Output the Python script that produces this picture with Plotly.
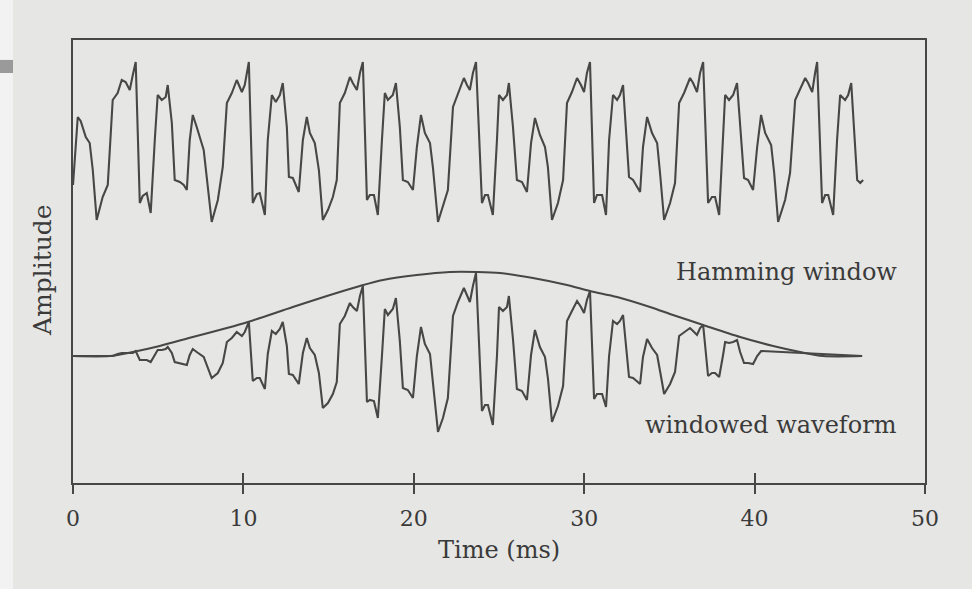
import plotly.graph_objects as go

# ---------------- data ----------------
# speech waveform (time in ms, amplitude in arbitrary units)
waveform_t = [
    0.00, 0.28, 0.45, 0.75, 0.98, 1.16, 1.39, 1.74, 2.04, 2.33, 2.62, 2.86, 3.09, 3.33, 3.51, 3.68,
    3.92, 4.09, 4.33, 4.56, 4.80, 4.97, 5.21, 5.44, 5.56, 5.80, 5.97, 6.27, 6.50, 6.68, 6.85, 7.03,
    7.26, 7.44, 7.67, 8.14, 8.50, 8.79, 9.03, 9.32, 9.61, 9.91, 10.08, 10.32,
    10.55, 10.79, 10.96, 11.26, 11.43, 11.67, 11.90, 12.14, 12.31, 12.55, 12.67, 12.90, 13.25, 13.49,
    13.72, 13.90, 14.19, 14.43, 14.66, 14.96, 15.25, 15.48, 15.66, 15.95, 16.25, 16.42, 16.66, 16.84, 17.01,
    17.25, 17.42, 17.66, 17.89, 18.13, 18.30, 18.48, 18.77, 18.95, 19.18, 19.36, 19.65, 19.95, 20.18,
    20.42, 20.65, 20.95, 21.12, 21.42, 21.71, 22.00, 22.30, 22.59, 22.94, 23.12, 23.29, 23.47, 23.65,
    24.00, 24.18, 24.35, 24.64, 24.88, 25.00, 25.23, 25.47, 25.58, 25.82, 26.05, 26.35, 26.64, 26.88,
    27.11, 27.40, 27.70, 27.87, 28.11, 28.46, 28.76, 28.99, 29.28, 29.58, 29.81, 29.99, 30.16, 30.34,
    30.58, 30.75, 31.05, 31.28, 31.46, 31.69, 31.93, 32.10, 32.28, 32.45, 32.63, 32.87, 33.28, 33.45,
    33.69, 33.98, 34.28, 34.45, 34.69, 35.04, 35.33, 35.57, 35.86, 36.21, 36.39, 36.62, 36.80, 36.98,
    37.27, 37.50, 37.68, 37.92, 38.15, 38.27, 38.50, 38.74, 38.97, 39.15, 39.38, 39.62, 39.91, 40.15,
    40.38, 40.62, 40.97, 41.15, 41.38, 41.79, 42.08, 42.38, 42.67, 42.97, 43.14, 43.38, 43.55, 43.67,
    43.96, 44.14, 44.32, 44.61, 44.84, 45.02, 45.31, 45.49, 45.67, 45.84, 46.02, 46.20, 46.37,
]
waveform_amp = [
    -4.0, 2.8, 2.4, 0.8, 0.2, -2.5, -7.5, -5.2, -4.0, 4.5, 5.2, 6.5, 6.3, 5.5, 7.0, 8.3,
    -5.8, -5.1, -4.8, -6.8, 0.5, 5.0, 4.5, 4.8, 6.0, 2.2, -3.5, -3.7, -4.0, -4.5, 0.5, 3.0,
    1.8, 0.8, -0.5, -7.7, -5.5, -2.2, 4.2, 5.2, 6.5, 5.3, 6.0, 8.3,
    -5.8, -4.9, -4.8, -7.0, 0.5, 5.0, 4.3, 5.0, 6.2, 1.8, -3.2, -3.3, -4.7, 0.5,
    2.8, 1.2, 0.2, -2.5, -7.5, -6.5, -5.2, -3.5, 4.2, 5.2, 6.8, 6.2, 5.5, 7.2, 8.3,
    -5.5, -5.0, -5.0, -7.0, 0.5, 5.2, 4.5, 5.0, 6.2, 1.8, -3.5, -3.7, -4.5, -0.2,
    3.0, 1.2, 0.2, -2.2, -7.7, -6.2, -4.5, 3.8, 5.2, 6.7, 6.0, 5.5, 7.2, 8.3,
    -5.8, -5.0, -5.0, -7.0, 0.5, 5.0, 4.5, 5.0, 6.2, 1.8, -3.5, -3.7, -4.7, 0.2,
    2.7, 1.0, -0.2, -2.2, -7.5, -5.8, -3.5, 4.2, 5.3, 6.7, 6.0, 5.3, 7.2, 8.3,
    -5.8, -5.0, -5.0, -7.0, 0.5, 5.0, 4.5, 5.0, 6.0, 1.8, -3.2, -3.5, -4.7, -0.2,
    2.8, 1.2, 0.2, -2.8, -7.5, -5.8, -3.8, 4.2, 5.2, 6.7, 6.2, 5.3, 7.2, 8.3,
    -5.8, -5.2, -5.2, -7.0, 0.5, 5.0, 4.5, 5.0, 6.2, 1.8, -3.3, -3.5, -4.5, -0.2,
    3.0, 1.2, 0.0, -2.8, -7.7, -5.5, -2.8, 4.5, 5.5, 6.7, 6.2, 5.3, 7.2, 8.3,
    -5.8, -5.0, -5.0, -7.0, 0.5, 5.0, 4.5, 5.0, 6.2, 1.8, -3.5, -3.8, -3.5,
]

# Hamming window envelope (same amplitude units)
window_t = [0.00, 2.16, 3.51, 5.09, 7.03, 9.03, 10.26, 12.90, 14.90, 16.84, 18.19, 20.18, 22.12,
            23.71, 25.06, 26.99, 28.99, 30.34, 31.93, 33.86, 35.21, 36.98, 39.15, 41.09, 42.67,
            44.02, 46.31]
window_amp = [0.0, 0.0, 0.4, 1.0, 1.9, 2.8, 3.4, 4.9, 6.0, 7.0, 7.6, 8.1, 8.4,
              8.4, 8.3, 7.8, 7.1, 6.5, 5.9, 4.9, 4.1, 3.1, 1.9, 1.0, 0.4,
              0.0, 0.0]

# windowed waveform
windowed_t = [0.00, 2.16, 2.33, 2.62, 2.86, 3.09, 3.33, 3.51, 3.68] + waveform_t[16:172] + [43.96, 46.31]
windowed_amp = [
    0.0, 0.0, 0.0, 0.2, 0.3, 0.3, 0.3, 0.3, 0.5,
    -0.4, -0.4, -0.4, -0.6, 0.1, 0.6, 0.6, 0.7, 0.9, 0.3, -0.6, -0.7, -0.8, -0.9, 0.1, 0.7,
    0.4, 0.2, -0.1, -2.2, -1.7, -0.7, 1.4, 1.8, 2.4, 2.0, 2.4, 3.4,
    -2.5, -2.2, -2.2, -3.3, 0.2, 2.5, 2.2, 2.7, 3.4, 1.0, -1.8, -1.9, -2.8, 0.3,
    1.8, 0.8, 0.1, -1.7, -5.2, -4.7, -3.8, -2.6, 3.2, 4.0, 5.3, 4.9, 4.5, 6.0, 7.0,
    -4.6, -4.4, -4.5, -6.2, 0.0, 4.7, 4.1, 4.7, 5.8, 1.5, -3.2, -3.4, -4.2, 0.0,
    2.9, 1.2, 0.2, -2.5, -7.6, -6.2, -4.2, 4.0, 5.4, 6.8, 6.1, 5.4, 7.0, 8.3,
    -5.5, -4.9, -4.9, -6.9, 0.0, 4.9, 4.5, 4.9, 6.0, 1.7, -3.3, -3.5, -4.4, 0.1,
    2.6, 0.9, -0.1, -2.2, -6.6, -5.0, -3.0, 3.5, 4.5, 5.5, 4.9, 4.3, 5.6, 6.5,
    -4.3, -3.8, -3.8, -5.1, 0.0, 3.5, 3.2, 3.5, 4.1, 1.0, -2.1, -2.2, -2.8, -0.1,
    1.7, 0.8, 0.1, -1.5, -3.8, -2.8, -1.6, 2.0, 2.4, 2.8, 2.5, 2.1, 2.8, 3.1,
    -2.0, -1.7, -1.7, -2.1, 0.1, 1.4, 1.3, 1.4, 1.6, 0.4, -0.7, -0.7, -0.8, 0.0,
    0.5, 0.2, 0.0, -0.3, -0.9, -0.5, -0.2, 0.3, 0.3, 0.3, 0.2, 0.1, 0.1, 0.1,
    0.0, 0.0,
]

x_ticks = [0, 10, 20, 30, 40, 50]
x_tick_labels = ["0", "10", "20", "30", "40", "50"]

# ---------------- styling ----------------
TOP_OFFSET = 21.1          # vertical offset of the raw waveform above the windowed one
INK = "#474747"
TEXT = "#3a3a3a"
BG = "#e6e6e4"
FONT = "DejaVu Serif"
LW = 2.1

fig = go.Figure()

fig.add_trace(go.Scatter(
    x=waveform_t, y=[a + TOP_OFFSET for a in waveform_amp],
    mode="lines", line=dict(color=INK, width=LW), hoverinfo="skip", showlegend=False))

fig.add_trace(go.Scatter(
    x=window_t, y=window_amp, mode="lines",
    line=dict(color=INK, width=LW, shape="spline", smoothing=0.8),
    hoverinfo="skip", showlegend=False))

fig.add_trace(go.Scatter(
    x=windowed_t, y=windowed_amp, mode="lines",
    line=dict(color=INK, width=LW), hoverinfo="skip", showlegend=False))

# invisible trace so the inward tick axis renders
fig.add_trace(go.Scatter(x=[0], y=[0], xaxis="x2", mode="markers",
                         marker=dict(opacity=0), hoverinfo="skip", showlegend=False))

fig.update_layout(
    width=972, height=589,
    margin=dict(l=73, r=47, t=40, b=106),
    paper_bgcolor=BG, plot_bgcolor=BG,
    font=dict(family=FONT, color=TEXT),
    xaxis=dict(range=[0, 50], tickvals=x_ticks, ticktext=x_tick_labels,
               ticks="outside", ticklen=9, tickwidth=2, tickcolor=INK,
               showline=True, linewidth=2, linecolor=INK, mirror=True,
               showgrid=False, zeroline=False,
               tickfont=dict(family=FONT, size=22, color=TEXT),
               ticklabelstandoff=6),
    xaxis2=dict(range=[0, 50], overlaying="x", anchor="y", side="bottom",
                tickvals=x_ticks, ticks="inside", ticklen=10, tickwidth=2, tickcolor=INK,
                showticklabels=False, showline=False, showgrid=False, zeroline=False),
    yaxis=dict(range=[-12.7, 31.6], showticklabels=False, ticks="",
               showline=True, linewidth=2, linecolor=INK, mirror=True,
               showgrid=False, zeroline=False),
    annotations=[
        dict(text="Time (ms)", xref="paper", yref="paper", x=0.5, y=-0.151,
             xanchor="center", yanchor="middle", showarrow=False,
             font=dict(family=FONT, size=24, color=TEXT)),
        dict(text="Amplitude", xref="paper", yref="paper", x=-0.035, y=0.481,
             xanchor="center", yanchor="middle", textangle=-90, showarrow=False,
             font=dict(family=FONT, size=25, color=TEXT)),
        dict(text="Hamming window", xref="x", yref="y", x=48.5, y=8.4,
             xanchor="right", yanchor="middle", showarrow=False,
             font=dict(family=FONT, size=24, color=TEXT)),
        dict(text="windowed waveform", xref="x", yref="y", x=48.5, y=-6.9,
             xanchor="right", yanchor="middle", showarrow=False,
             font=dict(family=FONT, size=24, color=TEXT)),
    ],
    shapes=[
        # lighter page edge of the scan and small grey mark at the top-left
        dict(type="rect", xref="paper", yref="paper", x0=-0.09, x1=-0.0704, y0=-0.3, y1=1.2,
             fillcolor="#f2f2f2", line=dict(width=0), layer="below"),
        dict(type="rect", xref="paper", yref="paper", x0=-0.09, x1=-0.0704, y0=0.9255, y1=0.955,
             fillcolor="#9a9a9a", line=dict(width=0), layer="below"),
    ],
)

fig.write_html("out.html")
